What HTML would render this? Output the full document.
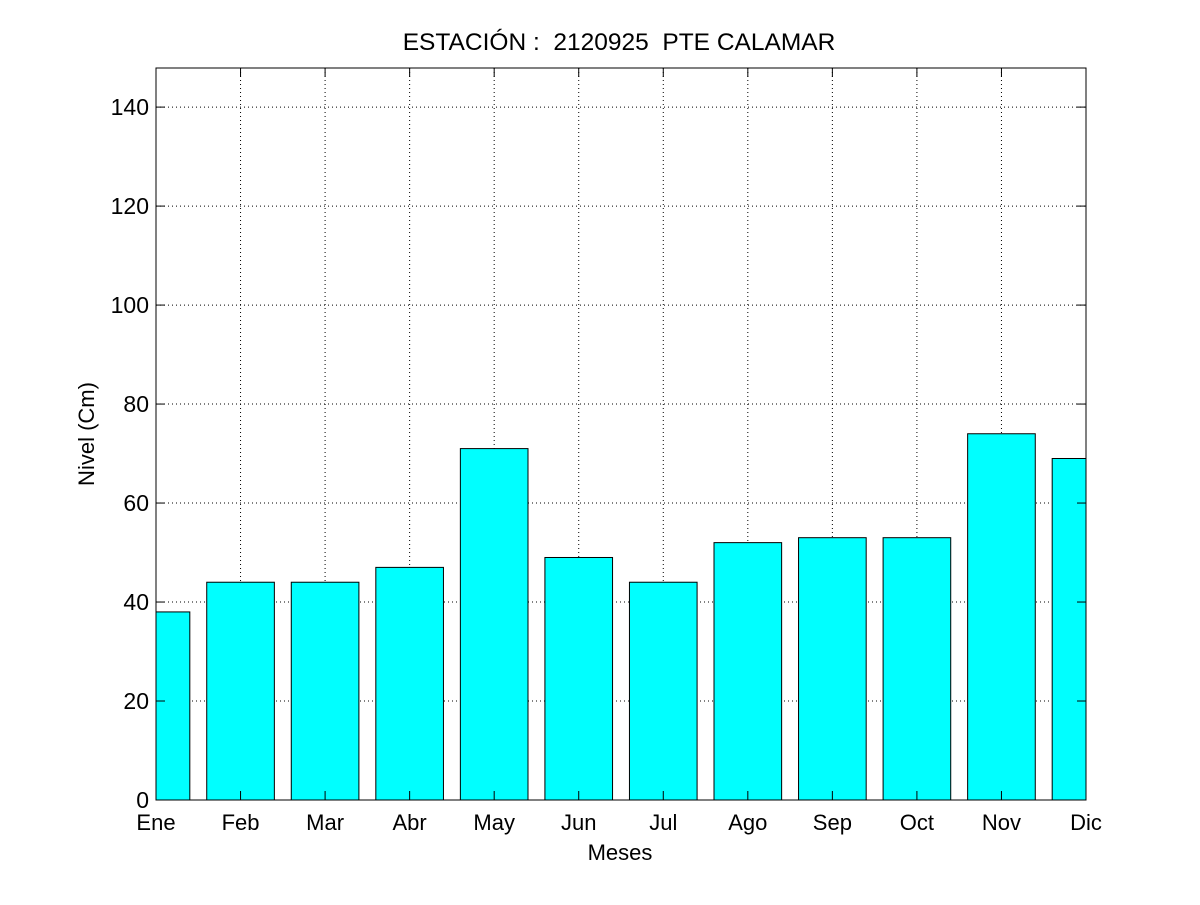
<!DOCTYPE html>
<html><head><meta charset="utf-8"><style>
body{margin:0;background:#fff;}
svg text{font-family:"Liberation Sans",sans-serif;white-space:pre;}
</style></head><body>
<svg id="chart" width="1200" height="900" xmlns="http://www.w3.org/2000/svg" xml:space="preserve">
<rect width="1200" height="900" fill="#fff"/>
<defs><clipPath id="clip"><rect x="156" y="68" width="930" height="732"/></clipPath></defs>
<g id="grid"></g>
<g id="bars" clip-path="url(#clip)"></g>
<rect x="156" y="68" width="930" height="732" fill="none" stroke="#000" stroke-width="1"/>
<g id="ticks"></g>
<text x="619" y="50" font-size="24.5" text-anchor="middle">ESTACIÓN :  2120925  PTE CALAMAR</text>
<text x="620" y="860" font-size="22" text-anchor="middle">Meses</text>
<text x="0" y="0" font-size="22" text-anchor="middle" transform="translate(94,434) rotate(-90)">Nivel (Cm)</text>
</svg>
<script>
const categories=["Ene","Feb","Mar","Abr","May","Jun","Jul","Ago","Sep","Oct","Nov","Dic"];
const values=[38,44,44,47,71,49,44,52,53,53,74,69];
const yTicks=[0,20,40,60,80,100,120,140];
const L=156,R=1086,T=68,B=800,yMax=147.9;
const NS="http://www.w3.org/2000/svg";
const xs=i=>L+i*(R-L)/(categories.length-1);
const ys=v=>B-v*(B-T)/yMax;
const step=(R-L)/(categories.length-1), bw=step*0.8;
function mk(tag,attrs,parent){const e=document.createElementNS(NS,tag);for(const k in attrs)e.setAttribute(k,attrs[k]);document.getElementById(parent).appendChild(e);return e;}
yTicks.forEach(t=>{
 const y=ys(t);
 if(t>0){const g=mk('line',{x1:L,x2:R,y1:y,y2:y,stroke:'#000','stroke-width':1,'stroke-dasharray':'1,3'},'grid');
 
 }
 const a=mk('line',{x1:L,x2:L+9,y1:y,y2:y,stroke:'#000'},'ticks');
 
 
 const b=mk('line',{x1:R-9,x2:R,y1:y,y2:y,stroke:'#000'},'ticks');
 
 
 const tx=mk('text',{x:L-7,y:y+8,'font-size':23,'text-anchor':'end'},'ticks');
 tx.textContent=t;
 
 
});
categories.forEach((c,i)=>{
 const x=xs(i);
 if(i>0&&i<categories.length-1){const g=mk('line',{x1:x,x2:x,y1:T,y2:B,stroke:'#000','stroke-width':1,'stroke-dasharray':'1,3'},'grid');
 
 }
 const r=mk('rect',{x:x-bw/2,y:ys(values[i]),width:bw,height:B-ys(values[i]),fill:'#00ffff',stroke:'#000','stroke-width':1},'bars');
 
 
 const a=mk('line',{x1:x,x2:x,y1:B-9,y2:B,stroke:'#000'},'ticks');
 
 
 const b=mk('line',{x1:x,x2:x,y1:T,y2:T+9,stroke:'#000'},'ticks');
 
 
 const tx=mk('text',{x:x,y:B+30,'font-size':22,'text-anchor':'middle'},'ticks');
 tx.textContent=c;
 
 
});
</script>
</body></html>
